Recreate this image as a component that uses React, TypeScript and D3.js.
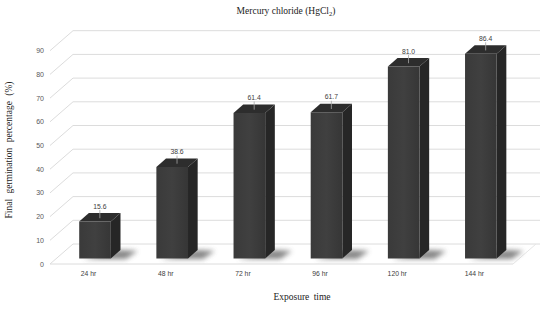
import React from "react";
import * as d3 from "d3";

const categories = ["24 hr", "48 hr", "72 hr", "96 hr", "120 hr", "144 hr"];
const values = [15.6, 38.6, 61.4, 61.7, 81.0, 86.4];
const yTicks = [0, 10, 20, 30, 40, 50, 60, 70, 80, 90];

const W = 544;
const H = 310;
// 3D projection: depth offsets
const DX = 23;
const DY = 20;
const barD0 = 0.28;
const barD1 = 0.7;

export default function App() {
  const x = d3
    .scaleBand<string>()
    .domain(categories)
    .range([50, 513])
    .paddingInner(0.59)
    .paddingOuter(0.295);
  const y = d3.scaleLinear().domain([0, 90]).range([264, 50.7]);

  const p = (px: number, py: number, depth: number) =>
    [px + depth * DX, py - depth * DY] as [number, number];
  const poly = (pts: [number, number][]) => pts.map((q) => q.join(",")).join(" ");

  const floorLeft = 50;
  const floorRight = 513;

  return (
    <svg width={W} height={H} style={{ position: "absolute", left: 0, top: 0, background: "#fff" }}>
      <defs>
        <filter id="blur" x="-50%" y="-50%" width="200%" height="200%">
          <feGaussianBlur stdDeviation="2.4" />
        </filter>
        <linearGradient id="front" x1="0" x2="1" y1="0" y2="0">
          <stop offset="0" stopColor="#3a3a3a" />
          <stop offset="0.5" stopColor="#404040" />
          <stop offset="1" stopColor="#363636" />
        </linearGradient>
      </defs>
      <rect x={0} y={0} width={W} height={H} fill="#fff" />
      {/* title */}
      <text x={286} y={14} textAnchor="middle" fontFamily="'Liberation Serif', serif" fontSize={9.5} fill="#222">
        Mercury  chloride  (HgCl<tspan fontSize={6.5} dy={2}>2</tspan>
        <tspan dy={-2}>)</tspan>
      </text>
      {/* gridlines: back wall */}
      {yTicks.map((t) => {
        const a = p(floorLeft, y(t), 1);
        const b = p(floorRight, y(t), 1);
        return <line key={"g" + t} x1={a[0]} y1={a[1]} x2={b[0] + 4} y2={b[1]} stroke="#dcdcdc" strokeWidth={1} />;
      })}
      {/* side wall slants */}
      {yTicks.map((t) => {
        const a = p(floorLeft, y(t), 0);
        const b = p(floorLeft, y(t), 1);
        return <line key={"s" + t} x1={a[0]} y1={a[1]} x2={b[0]} y2={b[1]} stroke="#dcdcdc" strokeWidth={1} />;
      })}
      {/* floor front edge and right edge */}
      <line x1={floorLeft} y1={y(0)} x2={floorRight} y2={y(0)} stroke="#dcdcdc" strokeWidth={1} />
      {(() => {
        const b = p(floorRight, y(0), 1);
        return <line x1={floorRight} y1={y(0)} x2={b[0]} y2={b[1]} stroke="#e6e6e6" strokeWidth={1} />;
      })()}
      {/* y tick labels */}
      {yTicks.map((t) => (
        <text key={"yt" + t} x={44} y={y(t) + 2.5} textAnchor="end" fontFamily="'Liberation Sans', Arial, sans-serif" fontSize={7} fill="#595959">
          {t}
        </text>
      ))}
      {/* bars */}
      {categories.map((c, i) => {
        const v = values[i];
        const x0 = x(c)!;
        const x1 = x0 + x.bandwidth();
        const yb = y(0);
        const yt = y(v);
        const fbl = p(x0, yb, barD0);
        const fbr = p(x1, yb, barD0);
        const ftl = p(x0, yt, barD0);
        const ftr = p(x1, yt, barD0);
        const btl = p(x0, yt, barD1);
        const btr = p(x1, yt, barD1);
        const bbr = p(x1, yb, barD1);
        const topCx = (ftl[0] + btr[0]) / 2;
        const topCy = (ftl[1] + btr[1]) / 2;
        const shadow: [number, number][] = [
          [fbl[0] + 4, fbl[1] + 0.5],
          [fbr[0] + 15, fbr[1] + 0.5],
          [bbr[0] + 17, bbr[1] + 1],
          [bbr[0], bbr[1]],
        ];
        return (
          <g key={c}>
            <polygon points={poly(shadow)} fill="#555" opacity={0.7} filter="url(#blur)" />
            <polygon points={poly([fbr, ftr, btr, bbr])} fill="#262626" />
            <polygon points={poly([ftl, ftr, btr, btl])} fill="#2d2d2d" />
            <polygon points={poly([fbl, fbr, ftr, ftl])} fill="url(#front)" />
            <line x1={topCx} y1={topCy + 1} x2={topCx} y2={btl[1] - 3} stroke="#a6a6a6" strokeWidth={0.8} />
            <text x={topCx} y={btl[1] - 4.5} textAnchor="middle" fontFamily="'Liberation Sans', Arial, sans-serif" fontSize={6.8} fill="#404040">
              {v.toFixed(1)}
            </text>
          </g>
        );
      })}
      {/* x labels */}
      {categories.map((c) => (
        <text key={"xl" + c} x={x(c)! + x.bandwidth() / 2} y={276} textAnchor="middle" fontFamily="'Liberation Sans', Arial, sans-serif" fontSize={6.8} fill="#404040">
          {c}
        </text>
      ))}
      {/* axis titles */}
      <text x={302} y={300} textAnchor="middle" fontFamily="'Liberation Serif', serif" fontSize={9.5} fill="#222" wordSpacing={2}>
        Exposure time
      </text>
      <text transform="translate(12,150) rotate(-90)" textAnchor="middle" fontFamily="'Liberation Serif', serif" fontSize={9.5} fill="#222" wordSpacing={3}>
        Final germination percentage (%)
      </text>
    </svg>
  );
}
